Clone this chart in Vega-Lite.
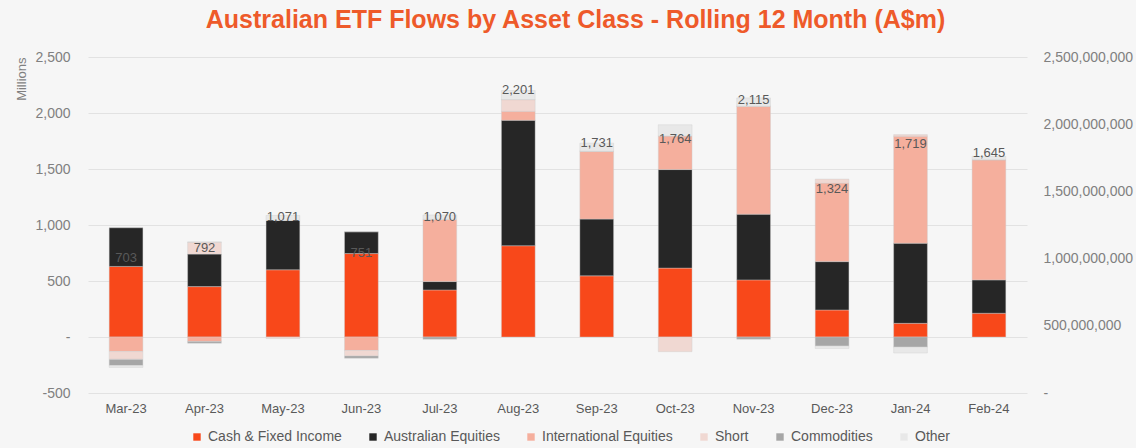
{
  "$schema": "https://vega.github.io/schema/vega-lite/v6.json",
  "width": 939,
  "height": 336,
  "autosize": {"type": "none"},
  "padding": {"left": 88, "top": 57, "right": 109, "bottom": 55},
  "background": "#F6F6F6",
  "config": {"view": {"stroke": null}, "font": "Liberation Sans"},
  "title": {
    "text": "Australian ETF Flows by Asset Class - Rolling 12 Month (A$m)",
    "color": "#EE5A2A",
    "fontSize": 25,
    "fontWeight": "bold",
    "font": "Liberation Sans",
    "anchor": "middle",
    "frame": "group",
    "dx": 18,
    "offset": 17
  },
  "datasets": {
    "flows": [
      {"month": "Mar-23", "cls": "Cash & Fixed Income", "value": 630},
      {"month": "Mar-23", "cls": "Australian Equities", "value": 345},
      {"month": "Mar-23", "cls": "International Equities", "value": -130},
      {"month": "Mar-23", "cls": "Short", "value": -70},
      {"month": "Mar-23", "cls": "Commodities", "value": -55},
      {"month": "Mar-23", "cls": "Other", "value": -17},
      {"month": "Apr-23", "cls": "Cash & Fixed Income", "value": 450},
      {"month": "Apr-23", "cls": "Australian Equities", "value": 290},
      {"month": "Apr-23", "cls": "International Equities", "value": -40},
      {"month": "Apr-23", "cls": "Short", "value": 107},
      {"month": "Apr-23", "cls": "Commodities", "value": -15},
      {"month": "Apr-23", "cls": "Other", "value": 0},
      {"month": "May-23", "cls": "Cash & Fixed Income", "value": 600},
      {"month": "May-23", "cls": "Australian Equities", "value": 440},
      {"month": "May-23", "cls": "International Equities", "value": 0},
      {"month": "May-23", "cls": "Short", "value": -14},
      {"month": "May-23", "cls": "Commodities", "value": 0},
      {"month": "May-23", "cls": "Other", "value": 45},
      {"month": "Jun-23", "cls": "Cash & Fixed Income", "value": 745},
      {"month": "Jun-23", "cls": "Australian Equities", "value": 195},
      {"month": "Jun-23", "cls": "International Equities", "value": -120},
      {"month": "Jun-23", "cls": "Short", "value": -50},
      {"month": "Jun-23", "cls": "Commodities", "value": -19},
      {"month": "Jun-23", "cls": "Other", "value": 0},
      {"month": "Jul-23", "cls": "Cash & Fixed Income", "value": 420},
      {"month": "Jul-23", "cls": "Australian Equities", "value": 75},
      {"month": "Jul-23", "cls": "International Equities", "value": 555},
      {"month": "Jul-23", "cls": "Short", "value": 0},
      {"month": "Jul-23", "cls": "Commodities", "value": -20},
      {"month": "Jul-23", "cls": "Other", "value": 40},
      {"month": "Aug-23", "cls": "Cash & Fixed Income", "value": 815},
      {"month": "Aug-23", "cls": "Australian Equities", "value": 1120},
      {"month": "Aug-23", "cls": "International Equities", "value": 80},
      {"month": "Aug-23", "cls": "Short", "value": 105},
      {"month": "Aug-23", "cls": "Commodities", "value": 0},
      {"month": "Aug-23", "cls": "Other", "value": 81},
      {"month": "Sep-23", "cls": "Cash & Fixed Income", "value": 546},
      {"month": "Sep-23", "cls": "Australian Equities", "value": 507},
      {"month": "Sep-23", "cls": "International Equities", "value": 605},
      {"month": "Sep-23", "cls": "Short", "value": 0},
      {"month": "Sep-23", "cls": "Commodities", "value": 0},
      {"month": "Sep-23", "cls": "Other", "value": 73},
      {"month": "Oct-23", "cls": "Cash & Fixed Income", "value": 615},
      {"month": "Oct-23", "cls": "Australian Equities", "value": 880},
      {"month": "Oct-23", "cls": "International Equities", "value": 300},
      {"month": "Oct-23", "cls": "Short", "value": -131},
      {"month": "Oct-23", "cls": "Commodities", "value": 0},
      {"month": "Oct-23", "cls": "Other", "value": 100},
      {"month": "Nov-23", "cls": "Cash & Fixed Income", "value": 510},
      {"month": "Nov-23", "cls": "Australian Equities", "value": 587},
      {"month": "Nov-23", "cls": "International Equities", "value": 963},
      {"month": "Nov-23", "cls": "Short", "value": 0},
      {"month": "Nov-23", "cls": "Commodities", "value": -20},
      {"month": "Nov-23", "cls": "Other", "value": 75},
      {"month": "Dec-23", "cls": "Cash & Fixed Income", "value": 241},
      {"month": "Dec-23", "cls": "Australian Equities", "value": 432},
      {"month": "Dec-23", "cls": "International Equities", "value": 701},
      {"month": "Dec-23", "cls": "Short", "value": 36},
      {"month": "Dec-23", "cls": "Commodities", "value": -80},
      {"month": "Dec-23", "cls": "Other", "value": -23},
      {"month": "Jan-24", "cls": "Cash & Fixed Income", "value": 122},
      {"month": "Jan-24", "cls": "Australian Equities", "value": 716},
      {"month": "Jan-24", "cls": "International Equities", "value": 954},
      {"month": "Jan-24", "cls": "Short", "value": 15},
      {"month": "Jan-24", "cls": "Commodities", "value": -90},
      {"month": "Jan-24", "cls": "Other", "value": -53},
      {"month": "Feb-24", "cls": "Cash & Fixed Income", "value": 212},
      {"month": "Feb-24", "cls": "Australian Equities", "value": 298},
      {"month": "Feb-24", "cls": "International Equities", "value": 1073},
      {"month": "Feb-24", "cls": "Short", "value": 0},
      {"month": "Feb-24", "cls": "Commodities", "value": 0},
      {"month": "Feb-24", "cls": "Other", "value": 30}
    ],
    "totals": [
      {"month": "Mar-23", "total": 703},
      {"month": "Apr-23", "total": 792},
      {"month": "May-23", "total": 1071},
      {"month": "Jun-23", "total": 751},
      {"month": "Jul-23", "total": 1070},
      {"month": "Aug-23", "total": 2201},
      {"month": "Sep-23", "total": 1731},
      {"month": "Oct-23", "total": 1764},
      {"month": "Nov-23", "total": 2115},
      {"month": "Dec-23", "total": 1324},
      {"month": "Jan-24", "total": 1719},
      {"month": "Feb-24", "total": 1645}
    ],
    "right": [
      {"dollars": 0},
      {"dollars": 2500000000}
    ]
  },
  "layer": [
    {
      "layer": [
        {
          "data": {"name": "flows"},
          "transform": [
            {"calculate": "indexof(['Cash & Fixed Income', 'Australian Equities', 'International Equities', 'Short', 'Commodities', 'Other'], datum.cls)", "as": "ord"}
          ],
          "mark": {"type": "bar", "stroke": "#D0D0D0", "strokeWidth": 0.4},
          "encoding": {
            "x": {
              "field": "month",
              "type": "nominal",
              "sort": null,
              "scale": {"paddingInner": 0.57, "paddingOuter": 0.27},
              "axis": {
                "title": null,
                "ticks": false,
                "domain": false,
                "labelAngle": 0,
                "labelPadding": 9,
                "labelFontSize": 13,
                "labelColor": "#595959"
              }
            },
            "y": {
              "field": "value",
              "type": "quantitative",
              "stack": "zero",
              "scale": {"domain": [-500, 2500], "nice": false},
              "axis": {
                "values": [-500, 0, 500, 1000, 1500, 2000, 2500],
                "labelExpr": "datum.value == 0 ? '-' : replace(format(datum.value, ','), '\u2212', '-')",
                "title": "Millions",
                "titleFontSize": 13,
                "titleFontWeight": "normal",
                "titleColor": "#7F7F7F",
                "titleAnchor": "end",
                "titlePadding": 6,
                "labelFontSize": 14,
                "labelColor": "#808080",
                "labelPadding": 18,
                "ticks": false,
                "domain": false,
                "gridColor": "#E2E2E2",
                "gridWidth": 1
              }
            },
            "order": {"field": "ord", "type": "quantitative"},
            "color": {
              "field": "cls",
              "type": "nominal",
              "sort": ["Cash & Fixed Income", "Australian Equities", "International Equities", "Short", "Commodities", "Other"],
              "scale": {
                "domain": ["Cash & Fixed Income", "Australian Equities", "International Equities", "Short", "Commodities", "Other"],
                "range": ["#F8481A", "#262626", "#F5AF9D", "#F0D8D2", "#A6A6A6", "#E8E8E8"]
              },
              "legend": {
                "title": null,
                "orient": "none",
                "legendX": 102,
                "legendY": 373,
                "direction": "horizontal",
                "symbolType": "square",
                "symbolSize": 55,
                "symbolStrokeWidth": 0,
                "labelFontSize": 14,
                "labelColor": "#595959",
                "columnPadding": 24
              }
            }
          }
        },
        {
          "data": {"name": "totals"},
          "mark": {"type": "text", "fontSize": 13, "color": "#595959", "baseline": "middle"},
          "encoding": {
            "x": {"field": "month", "type": "nominal", "sort": null},
            "y": {"field": "total", "type": "quantitative"},
            "text": {"field": "total", "type": "quantitative", "format": ","}
          }
        }
      ]
    },
    {
      "data": {"name": "right"},
      "mark": {"type": "point", "opacity": 0},
      "encoding": {
        "y": {
          "field": "dollars",
          "type": "quantitative",
          "scale": {"domain": [0, 2500000000], "nice": false},
          "axis": {
            "orient": "right",
            "title": null,
            "values": [0, 500000000, 1000000000, 1500000000, 2000000000, 2500000000],
            "labelExpr": "datum.value == 0 ? '-' : format(datum.value, ',')",
            "labelFontSize": 14,
            "labelColor": "#808080",
            "labelPadding": 16,
            "ticks": false,
            "domain": false,
            "grid": false
          }
        }
      }
    }
  ],
  "resolve": {"scale": {"y": "independent"}}
}
